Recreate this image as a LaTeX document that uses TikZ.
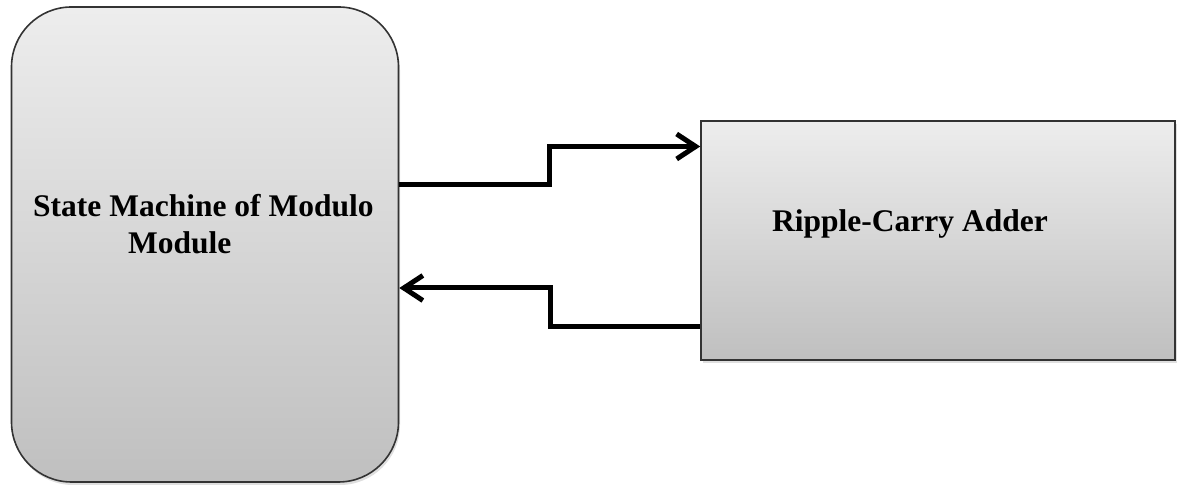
\documentclass[tikz,border=0pt]{standalone}
\usepackage{fontspec}
\setmainfont{Liberation Serif}
\usetikzlibrary{arrows.meta,shadows}
\tikzset{
  block/.style={draw=black!80, line width=1.6pt, top color=black!7, bottom color=black!25,
    drop shadow={shadow xshift=1.5pt, shadow yshift=-3pt, opacity=0.25}, inner sep=0pt},
  label/.style={inner sep=0pt, font=\fontsize{31.5}{37}\selectfont\bfseries},
  conn/.style={line width=5pt, -{Straight Barb[length=19pt, width=25pt, line width=5pt]}}
}
\begin{document}
\begin{tikzpicture}[x=1pt, y=1pt]
  \useasboundingbox (0,0) rectangle (1179,486);
  % left block: state machine
  \node[block, rounded corners=60pt, minimum width=387pt, minimum height=475pt] (sm) at (205,241.5) {};
  % right block: adder
  \node[block, minimum width=474pt, minimum height=239pt] (rca) at (938,245.5) {};
  % labels (base anchor sits on the last line)
  \node[label, anchor=base west, align=left] (smtext) at (33,232)
    {State Machine of Modulo\\\hspace*{95pt}Module};
  \node[label, anchor=base west] (rcatext) at (772,254) {Ripple-Carry Adder};
  % connections
  \draw[conn] ([yshift=59.5pt]sm.east) -- ++(150,0) |- ([yshift=94pt]rca.west);
  \draw[conn] ([yshift=-86pt]rca.west) -- ++(-150,0) |- ([yshift=-43.5pt]sm.east);
\end{tikzpicture}
\end{document}
